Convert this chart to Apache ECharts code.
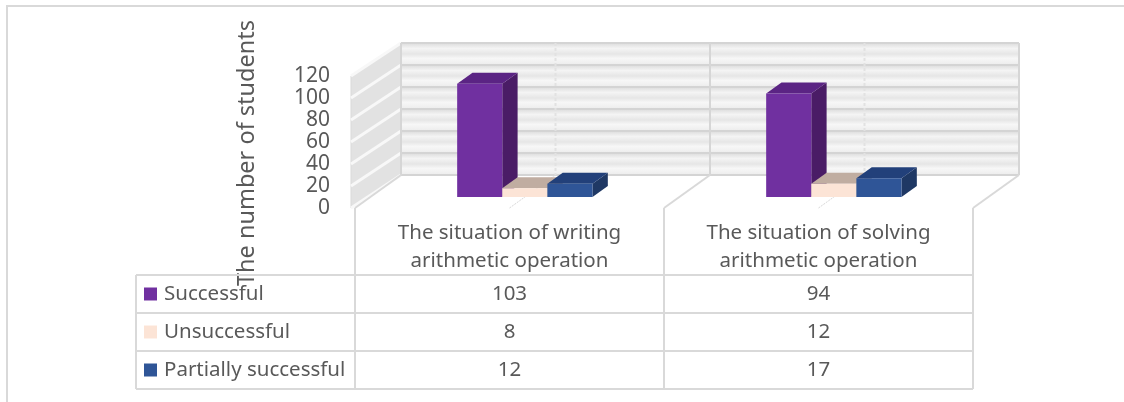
<!DOCTYPE html>
<html>
<head>
<meta charset="utf-8">
<script src="https://cdn.jsdelivr.net/npm/echarts@6/dist/echarts.min.js"></script>
<style>
  html, body { margin: 0; padding: 0; background: #fff; }
  #main { width: 1124px; height: 402px; }
</style>
</head>
<body>
<div id="main"></div>
<script>
// data
var categories = ['The situation of writing\narithmetic operation', 'The situation of solving\narithmetic operation'];
var seriesNames = ['Successful', 'Unsuccessful', 'Partially successful'];
var successful = [103, 94];
var unsuccessful = [8, 12];
var partiallySuccessful = [12, 17];
var yTicks = [0, 20, 40, 60, 80, 100, 120];

var allValues = [successful, unsuccessful, partiallySuccessful];
// front, side, top colours per series
var faceColors = [
  ['#7030a0', '#4a1c66', '#5b2484'],
  ['#fce4d6', '#b8a599', '#c0ada1'],
  ['#2f5597', '#1f3864', '#22407a']
];
var textColor = '#595959';
var font = 'Noto Sans';
var DX = 46, DY = -33;      // depth of the floor in pixels
var BAR_RATIO = 0.146;      // bar width / category width

var chart = echarts.init(document.getElementById('main'));

function wallsItem(params, api) {
  var n = categories.length;
  var bw = api.size([1, 0])[0];
  var c0 = api.coord([0, 0]);
  var xl = c0[0] - bw / 2;
  var xr = api.coord([n - 1, 0])[0] + bw / 2;
  var yMin = api.coord([0, yTicks[0]])[1];
  var yMax = api.coord([0, yTicks[yTicks.length - 1]])[1];
  var ch = [];
  // back wall bands
  for (var i = 0; i < yTicks.length - 1; i++) {
    var ya = api.coord([0, yTicks[i + 1]])[1] + DY;
    var yb = api.coord([0, yTicks[i]])[1] + DY;
    ch.push({ type: 'rect', shape: { x: xl + DX, y: ya, width: xr - xl, height: yb - ya },
      style: { fill: new echarts.graphic.LinearGradient(0, 0, 0, 1, [
        { offset: 0, color: '#dcdcdc' }, { offset: 0.25, color: '#f4f4f4' },
        { offset: 0.5, color: '#e6e6e6' }, { offset: 0.7, color: '#f7f7f7' }, { offset: 1, color: '#ececec' }]) } });
  }
  // side wall
  ch.push({ type: 'polygon', shape: { points: [[xl - 4, yMax], [xl + DX, yMax + DY], [xl + DX, yMin + DY], [xl - 4, yMin]] },
    style: { fill: '#e2e2e2', stroke: '#d9d9d9', lineWidth: 1 } });
  yTicks.forEach(function (v) {
    var y = api.coord([0, v])[1];
    ch.push({ type: 'line', shape: { x1: xl - 4, y1: y, x2: xl + DX, y2: y + DY }, style: { stroke: '#f8f8f8', lineWidth: 3 } });
    ch.push({ type: 'line', shape: { x1: xl + DX, y1: y + DY, x2: xr + DX, y2: y + DY }, style: { stroke: '#d4d4d4', lineWidth: 2 } });
  });
  // back wall verticals and floor lines
  for (var k = 0; k <= n * 2; k++) {
    var x = xl + k * bw / 2;
    ch.push({ type: 'line', shape: { x1: x + DX, y1: yMax + DY, x2: x + DX, y2: yMin + DY },
      style: { stroke: k % 2 ? '#e2e2e2' : '#d6d6d6', lineWidth: 2, lineDash: k % 2 ? [3, 2] : null } });
    ch.push({ type: 'line', shape: { x1: x, y1: yMin, x2: x + DX, y2: yMin + DY },
      style: { stroke: '#d9d9d9', lineWidth: k % 2 ? 1 : 2, lineDash: k % 2 ? [2, 1] : null } });
  }
  return { type: 'group', children: ch };
}

function barItem(si) {
  var col = faceColors[si];
  return function (params, api) {
    var c = api.value(0), v = api.value(1);
    var base = api.coord([c, 0]);
    var top = api.coord([c, v]);
    var w = api.size([1, 0])[0] * BAR_RATIO;
    var ox = DX / 3, oy = DY / 3;
    var x0 = base[0] - 1.5 * w + si * w + ox;
    var x1 = x0 + w;
    var yb = base[1] + oy, yt = top[1] + oy;
    return { type: 'group', children: [
      { type: 'polygon', shape: { points: [[x1, yb], [x1 + ox, yb + oy], [x1 + ox, yt + oy], [x1, yt]] }, style: { fill: col[1] } },
      { type: 'polygon', shape: { points: [[x0, yt], [x1, yt], [x1 + ox, yt + oy], [x0 + ox, yt + oy]] }, style: { fill: col[2] } },
      { type: 'rect', shape: { x: x0, y: yt, width: w, height: yb - yt }, style: { fill: col[0] } }
    ] };
  };
}

var series = [{
  type: 'custom', name: 'walls', clip: false, silent: true, z: 1,
  renderItem: wallsItem, data: [[0, 0]], encode: { x: 0, y: 1 }
}];
seriesNames.forEach(function (name, si) {
  series.push({
    type: 'custom', name: name, clip: false, z: 2,
    renderItem: barItem(si),
    encode: { x: 0, y: 1 },
    data: allValues[si].map(function (v, i) { return [i, v]; })
  });
});

var option = {
  animation: false,
  backgroundColor: '#fff',
  grid: { left: 355, top: 76, width: 618, height: 132 },
  xAxis: {
    type: 'category', data: categories,
    axisLine: { show: false }, axisTick: { show: false }, splitLine: { show: false },
    axisLabel: { color: textColor, fontFamily: font, fontSize: 20.5, lineHeight: 28, margin: 11 }
  },
  yAxis: {
    type: 'value', min: 0, max: 120, interval: 20,
    axisLine: { show: false }, axisTick: { show: false }, splitLine: { show: false },
    axisLabel: { color: textColor, fontFamily: font, fontSize: 21, margin: 25 }
  },
  series: series
};
chart.setOption(option);

// data table and frame
var tLeft = 136, tTop = 275, rowH = 38, colSplit = 355;
var bwPx = chart.convertToPixel({ xAxisIndex: 0 }, 1) - chart.convertToPixel({ xAxisIndex: 0 }, 0);
var tRight = chart.convertToPixel({ xAxisIndex: 0 }, categories.length - 1) + bwPx / 2;
var floorY = chart.convertToPixel({ yAxisIndex: 0 }, 0);
var lineStyle = { stroke: '#d9d9d9', lineWidth: 2 };
var tableFont = '20.5px "Noto Sans"';
var g = [];
g.push({ type: 'polyline', shape: { points: [[7, 402], [7, 6], [1124, 6]] }, style: { stroke: '#d9d9d9', lineWidth: 2, fill: null } });
g.push({ type: 'text', x: 247, y: 153, rotation: Math.PI / 2,
  style: { text: 'The number of students', fill: textColor, font: '23.5px "Noto Sans"', align: 'center', verticalAlign: 'middle' } });
for (var r = 0; r <= seriesNames.length; r++) {
  g.push({ type: 'line', shape: { x1: tLeft, y1: tTop + r * rowH, x2: tRight, y2: tTop + r * rowH }, style: lineStyle });
}
g.push({ type: 'line', shape: { x1: tLeft, y1: tTop, x2: tLeft, y2: tTop + seriesNames.length * rowH }, style: lineStyle });
for (var c = 0; c <= categories.length; c++) {
  var xc = colSplit + c * bwPx;
  g.push({ type: 'line', shape: { x1: xc, y1: floorY, x2: xc, y2: tTop + seriesNames.length * rowH }, style: lineStyle });
}
seriesNames.forEach(function (name, si) {
  var yc = tTop + si * rowH + rowH / 2;
  g.push({ type: 'rect', shape: { x: 144, y: yc - 6.5, width: 13, height: 13 }, style: { fill: faceColors[si][0] } });
  g.push({ type: 'text', x: 164, y: yc, style: { text: name, fill: textColor, font: tableFont, verticalAlign: 'middle' } });
  allValues[si].forEach(function (v, ci) {
    g.push({ type: 'text', x: chart.convertToPixel({ xAxisIndex: 0 }, ci), y: yc,
      style: { text: String(v), fill: textColor, font: tableFont, align: 'center', verticalAlign: 'middle' } });
  });
});
chart.setOption({ graphic: { elements: g } });
</script>
</body>
</html>
